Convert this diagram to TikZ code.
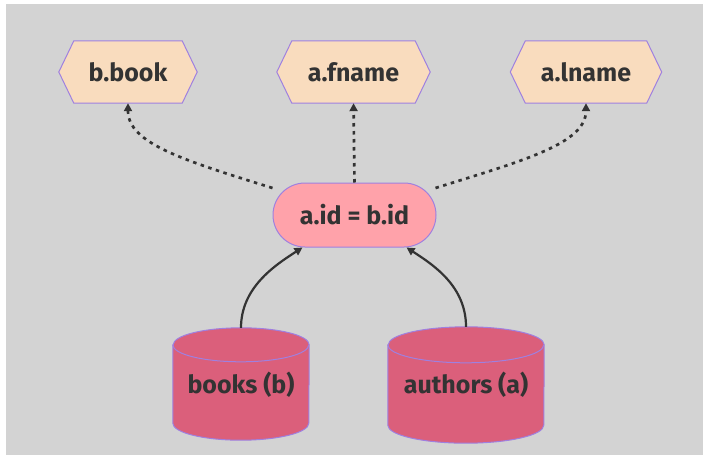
\documentclass[tikz,border=0pt]{standalone}
\usepackage{fontspec}
\setmainfont{Fira Sans}
\usetikzlibrary{arrows.meta,shapes.misc,backgrounds}
\definecolor{canvas}{HTML}{D3D3D3}
\definecolor{ink}{HTML}{333333}
\definecolor{edge}{HTML}{9F80E0}
\definecolor{peach}{HTML}{F9DCBE}
\definecolor{blush}{HTML}{FFA2AA}
\definecolor{drumred}{HTML}{DB5F7B}

% cylinder outline around a named box node: #1 node, #2 x radius, #3 y radius
\newcommand\drumshape[3]{%
  \filldraw[drum] ([yshift=-#3]#1.north west) -- ([yshift=#3]#1.south west)
    arc[start angle=180,end angle=360,x radius=#2,y radius=#3]
    -- ([yshift=-#3]#1.north east)
    arc[start angle=0,end angle=180,x radius=#2,y radius=#3] -- cycle;
  \draw[drumrim] ([yshift=-#3]#1.north west)
    arc[start angle=180,end angle=360,x radius=#2,y radius=#3];
}
% hexagon outline around a named box node, #2 = horizontal inset of the points
\newcommand\hexshape[2]{%
  \filldraw[hexline] (#1.west) -- ([xshift=#2]#1.north west)
    -- ([xshift=-#2]#1.north east) -- (#1.east)
    -- ([xshift=-#2]#1.south east) -- ([xshift=#2]#1.south west) -- cycle;
}

\begin{document}
\begin{tikzpicture}[x=1pt,y=-1pt,
  label text/.style={font=\bfseries\fontsize{25}{30}\selectfont, text=ink},
  attr/.style={label text, minimum height=62pt, inner sep=0pt},
  hexline/.style={draw=edge, fill=peach, line width=1pt},
  joinbox/.style={label text, rounded rectangle, minimum width=163pt,
    minimum height=64pt, inner sep=0pt, draw=edge, fill=blush, line width=1pt},
  drumbox/.style={inner sep=0pt},
  drum/.style={draw=edge, fill=drumred, line width=1pt},
  drumrim/.style={draw=edge, line width=1pt},
  drumtext/.style={label text, inner sep=0pt},
  link/.style={draw=ink, line width=2.2pt, -{Triangle[length=8pt,width=8pt]}},
  lookup/.style={link, line width=2.7pt, dash pattern=on 3.5pt off 4.5pt},
]
\useasboundingbox (0,0) rectangle (703,455);

% projected columns
\node[attr, minimum width=138pt] (bb) at (128,72) {b.book};
\node[attr, minimum width=153pt] (fn) at (353.5,72) {a.fname};
\node[attr, minimum width=151pt] (ln) at (586,72) {a.lname};
\begin{scope}[on background layer]
  \fill[canvas] (6,4) rectangle (703,455);
  \hexshape{bb}{15pt}
  \hexshape{fn}{15pt}
  \hexshape{ln}{15pt}
\end{scope}

% join condition
\node[joinbox] (ab) at (354.5,215) {a.id = b.id};

% source tables
\node[drumbox, minimum width=136pt, minimum height=112pt] (books) at (241,384) {};
\drumshape{books}{68pt}{17pt}
\node[drumtext] (booksText) at (241,385) {books (b)};

\node[drumbox, minimum width=156pt, minimum height=116pt] (authors) at (466,385) {};
\drumshape{authors}{78pt}{18pt}
\node[drumtext] (authorsText) at (466,385) {authors (a)};

% tables feed the join
\draw[link] (books.north) .. controls +(0,-40) and +(-28,18) .. ([xshift=-52pt]ab.south);
\draw[link] (authors.north) .. controls +(0,-40) and +(28,18) .. ([xshift=52pt]ab.south);

% join feeds the projected columns
\draw[lookup] ([shift={(-82,-27)}]ab.center) .. controls +(-90,-28) and +(0,40) .. (bb.south);
\draw[lookup] (ab.north) -- (fn.south);
\draw[lookup] ([shift={(81,-27)}]ab.center) .. controls +(90,-28) and +(0,40) .. (ln.south);
\end{tikzpicture}
\end{document}
